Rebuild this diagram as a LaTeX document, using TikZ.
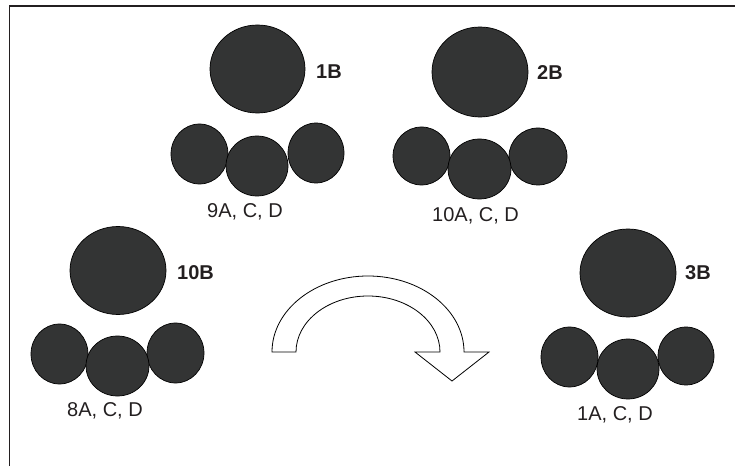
\documentclass[tikz,border=0pt]{standalone}
\usepackage{fontspec}
\setmainfont{Liberation Sans}
\usetikzlibrary{shapes.geometric}
\definecolor{ink}{RGB}{35,31,32}
\definecolor{ball}{RGB}{51,52,52}
\tikzset{
  ball/.style={ellipse, draw=black, line width=0.7pt, fill=ball, inner sep=0pt},
  tag/.style={anchor=base west, inner sep=0pt, text=ink,
    font=\fontsize{20pt}{24pt}\selectfont\bfseries},
  caption/.style={anchor=base west, inner sep=0pt, text=ink,
    font=\fontsize{20pt}{24pt}\selectfont},
  frame/.style={draw=ink, line width=1.5pt},
  turnarrow/.style={draw=black, line width=0.8pt, fill=white, line join=miter}
}
\begin{document}
\begin{tikzpicture}[x=1pt, y=1pt]
\useasboundingbox (0,0) rectangle (735,466);

% open frame: top and left edges
\coordinate (ftl) at (9.5,460);
\coordinate (ftr) at (735,460);
\coordinate (fbl) at (9.5,0);
\draw[frame] (fbl) -- (ftl) -- (ftr);

% group 1B / 9A, C, D
\node[ball, minimum width=95pt, minimum height=88pt] (b1) at (257.5,397) {};
\node[tag] (t1) at (316,387.5) {1B};
\node[ball, minimum width=57pt, minimum height=60pt] (b1l) at (199.5,312) {};
\node[ball, minimum width=56pt, minimum height=60pt] (b1r) at (316,313) {};
\node[ball, minimum width=62pt, minimum height=60pt] (b1m) at (257,300) {};
\node[caption] (c1) at (207,248) {9A, C, D};

% group 2B / 10A, C, D
\node[ball, minimum width=96pt, minimum height=90pt] (b2) at (480,394) {};
\node[tag] (t2) at (537,386) {2B};
\node[ball, minimum width=57pt, minimum height=58pt] (b2l) at (421.5,310) {};
\node[ball, minimum width=58pt, minimum height=57pt] (b2r) at (538,309.5) {};
\node[ball, minimum width=63pt, minimum height=60pt] (b2m) at (479.5,297) {};
\node[caption] (c2) at (432,244.5) {10A, C, D};

% group 10B / 8A, C, D
\node[ball, minimum width=96pt, minimum height=88pt] (b10) at (118,195.5) {};
\node[tag] (t10) at (177,186) {10B};
\node[ball, minimum width=57pt, minimum height=60pt] (b10l) at (59.5,112) {};
\node[ball, minimum width=57pt, minimum height=60pt] (b10r) at (175.5,113) {};
\node[ball, minimum width=63pt, minimum height=60pt] (b10m) at (117.5,100) {};
\node[caption] (c10) at (67,49.5) {8A, C, D};

% group 3B / 1A, C, D
\node[ball, minimum width=96pt, minimum height=88pt] (b3) at (628,193) {};
\node[tag] (t3) at (685,186) {3B};
\node[ball, minimum width=57pt, minimum height=60pt] (b3l) at (569.5,109) {};
\node[ball, minimum width=56pt, minimum height=58pt] (b3r) at (686,110) {};
\node[ball, minimum width=62pt, minimum height=60pt] (b3m) at (628,97) {};
\node[caption] (c3) at (577,46) {1A, C, D};

% curved hollow arrow
\draw[turnarrow] (272,114)
  arc[start angle=180, end angle=0, x radius=96pt, y radius=76pt]
  -- (489,114) -- (452,85) -- (415,114) -- (440,114)
  arc[start angle=0, end angle=180, x radius=72pt, y radius=56pt]
  -- cycle;
\end{tikzpicture}
\end{document}
